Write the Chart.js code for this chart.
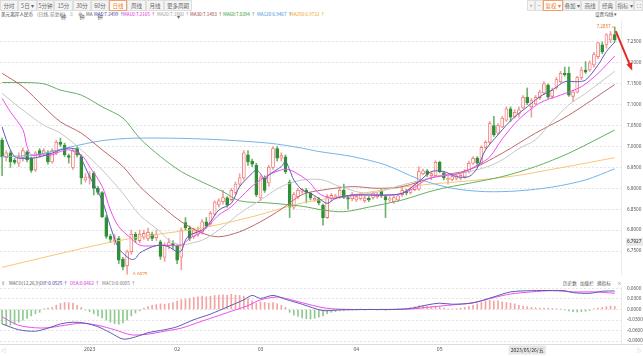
<!DOCTYPE html>
<html><head><meta charset="utf-8">
<script src="https://cdn.jsdelivr.net/npm/chart.js@4.4.1/dist/chart.umd.min.js"></script>
<style>
body{margin:0;width:643px;height:356px;overflow:hidden;background:#fff;position:relative;font-family:"Noto Sans CJK SC","Noto Sans",sans-serif;}
.b{position:absolute;top:0;height:11px;line-height:11px;font-size:5.5px;color:#666;text-align:center;background:#f4f4f4;border:1px solid #dedede;box-sizing:border-box;}
.b.on{color:#f0782a;border-color:#f0a06a;background:#fff;}
.t{position:absolute;font-size:4.6px;white-space:nowrap;line-height:6px;}
#c1w{position:absolute;left:0;top:20px;width:643px;height:255px;}
#c2w{position:absolute;left:0;top:286px;width:643px;height:70px;}
</style></head><body>
<div id="bar"></div>
<div id="leg"></div>
<div id="c1w"><canvas id="c1" width="643" height="255"></canvas></div>
<div id="c2w"><canvas id="c2" width="643" height="70"></canvas></div>
<script>
// ---------------- data ----------------
const open  = [7.015,6.973,6.985,6.967,6.96,6.973,6.987,6.972,6.944,6.99,6.983,6.985,6.963,6.985,7.01,7.003,6.978,6.95,6.995,6.975,6.92,6.925,6.937,6.90,6.89,6.83,6.785,6.774,6.78,6.73,6.715,6.748,6.79,6.775,6.783,6.78,6.79,6.782,6.772,6.735,6.763,6.768,6.762,6.735,6.818,6.805,6.785,6.79,6.795,6.82,6.815,6.838,6.86,6.868,6.877,6.873,6.89,6.91,6.925,6.98,6.965,6.955,6.877,6.925,6.913,6.95,6.995,6.972,6.975,6.915,6.855,6.88,6.893,6.895,6.888,6.872,6.875,6.86,6.83,6.875,6.878,6.88,6.895,6.878,6.875,6.872,6.875,6.87,6.876,6.878,6.88,6.893,6.88,6.872,6.868,6.872,6.885,6.893,6.89,6.897,6.898,6.935,6.942,6.93,6.93,6.962,6.937,6.921,6.921,6.924,6.924,6.927,6.94,6.96,6.972,6.96,6.998,7.01,7.05,7.032,7.047,7.063,7.09,7.072,7.078,7.092,7.118,7.095,7.102,7.117,7.128,7.147,7.12,7.14,7.155,7.175,7.175,7.12,7.13,7.165,7.183,7.183,7.195,7.215,7.243,7.243,7.255,7.268];
const high  = [7.02,6.99,6.99,6.972,6.985,6.997,6.99,6.975,6.988,6.995,6.995,6.99,6.995,7.015,7.02,7.008,6.982,6.995,7.0,6.98,6.935,6.94,6.94,6.905,6.892,6.835,6.79,6.79,6.785,6.735,6.752,6.80,6.795,6.80,6.80,6.805,6.795,6.80,6.776,6.77,6.78,6.775,6.765,6.805,6.83,6.81,6.805,6.808,6.825,6.83,6.845,6.87,6.875,6.895,6.88,6.90,6.915,6.935,6.99,6.99,6.97,6.96,6.93,6.93,6.955,7.0,7.0,6.985,6.98,6.92,6.89,6.90,6.90,6.90,6.89,6.88,6.878,6.862,6.885,6.888,6.886,6.90,6.91,6.882,6.89,6.885,6.89,6.882,6.88,6.892,6.89,6.897,6.884,6.88,6.882,6.886,6.905,6.898,6.902,6.912,6.952,6.946,6.945,6.94,6.966,6.965,6.94,6.928,6.932,6.935,6.936,6.945,6.965,6.976,6.976,7.002,7.014,7.06,7.072,7.055,7.072,7.095,7.095,7.088,7.095,7.122,7.14,7.115,7.122,7.135,7.155,7.15,7.14,7.165,7.18,7.19,7.19,7.135,7.168,7.19,7.203,7.205,7.225,7.25,7.25,7.27,7.275,7.2857];
const low   = [6.93,6.965,6.95,6.958,6.952,6.965,6.963,6.938,6.94,6.975,6.978,6.958,6.96,6.98,7.0,6.976,6.96,6.945,6.975,6.91,6.915,6.91,6.884,6.885,6.83,6.78,6.77,6.765,6.72,6.705,6.6975,6.742,6.77,6.77,6.778,6.775,6.775,6.775,6.73,6.725,6.755,6.755,6.72,6.705,6.80,6.775,6.78,6.785,6.79,6.805,6.81,6.835,6.855,6.862,6.855,6.87,6.885,6.905,6.92,6.955,6.952,6.88,6.87,6.89,6.905,6.945,6.965,6.965,6.935,6.83,6.85,6.875,6.888,6.865,6.872,6.868,6.86,6.812,6.828,6.87,6.874,6.876,6.875,6.85,6.87,6.868,6.872,6.866,6.868,6.874,6.876,6.878,6.83,6.868,6.864,6.868,6.88,6.884,6.886,6.894,6.895,6.932,6.928,6.92,6.928,6.937,6.92,6.91,6.918,6.92,6.92,6.924,6.937,6.957,6.955,6.957,6.994,7.007,7.024,7.028,7.045,7.06,7.06,7.068,7.07,7.09,7.10,7.07,7.10,7.112,7.125,7.115,7.115,7.137,7.152,7.168,7.12,7.107,7.128,7.16,7.175,7.18,7.19,7.21,7.222,7.235,7.248,7.25];
const close = [6.975,6.985,6.963,6.962,6.975,6.99,6.968,6.943,6.985,6.98,6.99,6.963,6.99,7.01,7.005,6.98,6.974,6.99,6.98,6.925,6.927,6.93,6.90,6.89,6.832,6.785,6.778,6.782,6.728,6.712,6.748,6.79,6.778,6.79,6.792,6.795,6.78,6.79,6.737,6.765,6.77,6.762,6.728,6.80,6.805,6.78,6.80,6.80,6.82,6.81,6.84,6.867,6.87,6.878,6.86,6.895,6.91,6.925,6.985,6.963,6.958,6.885,6.925,6.895,6.95,6.995,6.972,6.978,6.94,6.855,6.885,6.895,6.897,6.89,6.877,6.876,6.865,6.83,6.88,6.883,6.882,6.895,6.878,6.874,6.885,6.88,6.885,6.877,6.872,6.888,6.885,6.882,6.872,6.875,6.878,6.882,6.895,6.889,6.898,6.908,6.94,6.942,6.933,6.935,6.962,6.94,6.925,6.924,6.928,6.93,6.931,6.94,6.96,6.972,6.96,6.998,7.01,7.055,7.028,7.05,7.068,7.09,7.07,7.082,7.088,7.118,7.105,7.11,7.118,7.13,7.15,7.118,7.135,7.16,7.175,7.172,7.123,7.13,7.165,7.183,7.178,7.20,7.22,7.248,7.226,7.267,7.268,7.255];

// moving averages: [candle index, value]
const ma5   = [[0,7.047],[1,7.016],[2,6.992],[3,6.976],[4,6.972],[7,6.972],[9,6.975],[12,6.984],[14,6.992],[16,6.996],[18,6.992],[19,6.972],[21,6.928],[24,6.872],[26,6.808],[28,6.756],[30,6.736],[31,6.73],[32,6.732],[33,6.745],[36,6.76],[38,6.764],[40,6.76],[42,6.748],[43,6.75],[44,6.776],[45,6.788],[48,6.80],[50,6.82],[52,6.848],[55,6.864],[57,6.904],[60,6.936],[61,6.944],[62,6.935],[63,6.92],[64,6.932],[67,6.952],[68,6.964],[69,6.944],[70,6.92],[72,6.896],[74,6.888],[76,6.876],[78,6.864],[80,6.876],[84,6.884],[88,6.884],[92,6.884],[96,6.888],[100,6.916],[103,6.94],[106,6.94],[109,6.928],[112,6.928],[114,6.948],[116,6.992],[119,7.028],[121,7.051],[123,7.071],[126,7.095],[129,7.119],[132,7.135],[135,7.155],[138,7.155],[140,7.159],[143,7.195],[145,7.227],[147,7.2499]];
const ma10  = [[0,7.115],[2,7.083],[5,7.04],[6,7.0],[7,6.98],[9,6.98],[12,6.98],[14,6.988],[16,6.992],[19,6.98],[21,6.952],[24,6.905],[26,6.848],[28,6.808],[31,6.78],[33,6.764],[36,6.762],[38,6.764],[43,6.764],[45,6.78],[48,6.796],[50,6.816],[52,6.836],[55,6.856],[57,6.876],[60,6.905],[62,6.92],[64,6.932],[67,6.944],[69,6.944],[72,6.928],[74,6.912],[76,6.888],[79,6.876],[82,6.88],[86,6.884],[94,6.884],[98,6.896],[102,6.922],[106,6.93],[110,6.936],[114,6.955],[117,6.975],[120,7.018],[124,7.065],[129,7.104],[134,7.123],[139,7.143],[143,7.175],[147,7.2165]];
const ma20  = [[0,7.127],[5,7.087],[10,7.051],[14,7.032],[19,6.992],[24,6.944],[29,6.888],[33,6.836],[38,6.796],[40,6.776],[43,6.764],[45,6.768],[48,6.776],[52,6.80],[57,6.84],[62,6.872],[67,6.904],[72,6.92],[77,6.92],[81,6.904],[88,6.888],[96,6.908],[104,6.928],[110,6.936],[116,6.95],[120,6.968],[124,6.995],[128,7.016],[132,7.06],[136,7.10],[140,7.127],[147,7.18]];
const ma30  = [[0,7.175],[5,7.143],[10,7.095],[14,7.059],[19,7.032],[24,6.992],[29,6.952],[33,6.905],[38,6.86],[43,6.82],[48,6.793],[52,6.784],[57,6.796],[62,6.82],[67,6.85],[72,6.885],[77,6.896],[84,6.904],[90,6.90],[96,6.904],[104,6.928],[112,6.944],[120,6.984],[128,7.032],[136,7.075],[147,7.1483]];
const ma60  = [[0,7.153],[5,7.153],[10,7.15],[14,7.135],[19,7.123],[24,7.095],[29,7.068],[33,7.02],[38,6.976],[43,6.94],[48,6.915],[53,6.892],[57,6.87],[64,6.865],[72,6.857],[77,6.848],[82,6.844],[88,6.855],[96,6.872],[104,6.896],[112,6.912],[120,6.928],[128,6.952],[136,6.984],[147,7.0394]];
const ma120 = [[0,6.976],[8,6.98],[16,6.998],[24,7.014],[32,7.02],[48,7.018],[64,7.008],[72,6.996],[76,6.988],[84,6.976],[92,6.956],[100,6.922],[108,6.90],[116,6.892],[124,6.894],[132,6.903],[140,6.92],[147,6.9467]];
const ma250 = [[0,6.711],[25,6.769],[36,6.788],[48,6.805],[60,6.832],[72,6.865],[84,6.884],[97,6.904],[121,6.927],[134,6.949],[147,6.9732]];
const priceTicks = [6.75,6.80,6.85,6.90,6.95,7.00,7.05,7.10,7.15,7.20,7.25];

// MACD panel
const macdHist = [-0.040,-0.044,-0.045,-0.042,-0.036,-0.030,-0.025,-0.018,-0.012,-0.008,
 0.002,0.004,0.006,
 0.012,0.017,0.020,0.019,0.018,0.012,0.006,
 -0.002,-0.006,
 -0.012,-0.018,-0.024,-0.030,-0.036,-0.040,-0.042,-0.038,-0.030,
 -0.018,-0.010,-0.004,
 0.004,0.008,0.012,0.014,0.016,0.015,0.017,0.020,0.024,0.028,0.030,0.032,0.034,0.036,0.038,0.036,0.038,0.040,0.041,0.042,0.040,0.043,0.041,0.040,0.038,
 0.030,0.025,0.018,0.022,0.020,0.018,0.020,0.016,0.012,0.006,
 -0.008,-0.016,-0.020,-0.024,-0.026,-0.027,-0.025,-0.022,-0.018,-0.012,
 -0.008,-0.006,-0.004,-0.003,-0.002,-0.001,-0.001,0.001,-0.001,0.001,0.000,-0.001,0.001,-0.002,0.000,0.001,0.002,0.002,0.003,
 0.006,0.008,0.011,0.012,0.010,0.008,0.010,0.007,0.004,0.002,0.001,0.002,0.004,0.006,0.008,
 0.012,0.016,0.020,0.024,0.026,0.024,0.025,0.022,0.020,0.018,0.016,0.012,0.010,0.008,0.006,
 0.005,0.004,0.003,0.004,0.003,0.002,0.001,-0.001,
 -0.004,-0.006,-0.007,-0.006,-0.005,-0.003,
 0.002,0.004,0.006,0.008,0.010,0.0085];
const dif = [[0,-0.041],[4,-0.0575],[8,-0.0616],[11,-0.053],[14,-0.041],[17,-0.036],[20,-0.039],[23,-0.049],[26,-0.066],[29,-0.084],[32,-0.078],[35,-0.066],[39,-0.0575],[42,-0.049],[46,-0.029],[50,-0.013],[54,0.007],[58,0.0275],[60,0.040],[62,0.0316],[65,0.040],[68,0.029],[72,0.015],[77,-0.003],[81,-0.001],[88,0],[94,0],[98,0.003],[102,0.013],[105,0.018],[108,0.015],[113,0.019],[118,0.036],[122,0.050],[127,0.0535],[132,0.054],[135,0.0535],[137,0.048],[141,0.046],[144,0.052],[147,0.0525]];
const dea = [[0,-0.021],[4,-0.045],[8,-0.052],[11,-0.052],[15,-0.045],[19,-0.039],[23,-0.045],[27,-0.0575],[31,-0.072],[35,-0.070],[39,-0.0616],[43,-0.053],[47,-0.037],[51,-0.021],[55,-0.005],[59,0.011],[62,0.0275],[66,0.0356],[68,0.0316],[72,0.0194],[77,0.005],[81,0.001],[88,0],[98,0.0016],[103,0.0073],[108,0.013],[113,0.019],[118,0.034],[122,0.044],[127,0.050],[132,0.0535],[137,0.050],[142,0.050],[147,0.0462]];
const macdTicks = [0.06,0.03,0,-0.03,-0.06,-0.09];
const dateTicks = [[21,'2023'],[42,'02'],[62,'03'],[85,'04'],[105,'05']];
const cursorDate = [126,'2023/05/26/五'];

// ---------------- header html ----------------
const leftBtns = [['分时',0,18],['5日 ▾',18,37],['5分钟',37,54],['15分钟',54,73],['30分钟',73,91],['60分钟',91,109],['日线',109,127,1],['周线',127,146],['月线',146,164],['更多周期 ▾',164,192]];
const rightBtns = [['+',527,535],['−',535,543],['复权 ▾',543,563,1],['叠加 ▾',563,581],['画线',581,599],['经典',599,616],['指标 ▾',616,634],['⛶',634,643]];
let h='';
for(const b of leftBtns.concat(rightBtns)) h+=`<div class="b${b[3]?' on':''}" style="left:${b[1]}px;width:${b[2]-b[1]}px">${b[0]}</div>`;
document.getElementById('bar').innerHTML=h;
const legItems=[['美元离岸人民币',1,'#333'],['(日线, 前复权)',37,'#777'],['⍰',70,'#888'],['⚙',78,'#888'],['MA',86,'#555'],
 ['MA5:7.2499 ↑',94,'#3b3b9e'],['MA10:7.2165 ↑',123,'#e020e0'],['MA20:7.1800 ↑',157,'#999'],['MA30:7.1483 ↑',190,'#a04040'],
 ['MA60:7.0394 ↑',223,'#2f9a2f'],['MA120:6.9467 ↑',257,'#3a8fd8'],['MA250:6.9732 ↑',290,'#f0a020'],['设置均线 ▾',595,'#555']];
let l='';
for(const t of legItems) l+=`<div class="t" style="left:${t[1]}px;top:11px;color:${t[2]}">${t[0]}</div>`;
const macdLeg=[['⇕',1,'#888'],['MACD(12,26,9)',9,'#555'],['DIF:0.0525 ↑',40,'#3b3b9e'],['DEA:0.0462 ↑',70,'#e020e0'],['MACD:0.0085 ↑',102,'#777'],['历史数',563,'#555'],['加载栏',580,'#555'],['换指标',597,'#555'],['×',617,'#888']];
for(const t of macdLeg) l+=`<div class="t" style="left:${t[1]}px;top:280px;color:${t[2]}">${t[0]}</div>`;
document.getElementById('leg').innerHTML=l;

// ---------------- chart helpers ----------------
const N = open.length;
const labels = Array.from({length:N+1},(_,i)=>i);
const toSeries = pts => { const a = new Array(N+1).fill(null); pts.forEach(([i,v])=>a[i]=v); return a; };
const up = close.map((c,i)=>c>=open[i]);
const UP='#ee6b6b', DN='#2f8f34';
const maDef = [[ma5,'#5c5cae'],[ma10,'#f04cf0'],[ma20,'#c6c6c6'],[ma30,'#bb6a6a'],[ma60,'#63b063'],[ma120,'#72b4ea'],[ma250,'#f8c677']];
const xCommon = {type:'category',offset:true,display:false,grid:{display:false}};
const fixW = s => { s.width = 22; s.paddingTop = 0; s.paddingBottom = 0; };
const yAxis = (min,max,ticks)=>({position:'right',min,max,afterFit:fixW,
  afterBuildTicks:s=>{s.ticks=ticks.map(v=>({value:v}));},
  grid:{color:'#e4e4e4',drawTicks:false},border:{display:true,color:'#ececec',dash:[2,2]},
  ticks:{padding:6,font:{size:4.6,family:'"Noto Sans"'},color:'#555',callback:v=>Number(v).toFixed(4)}});

const overlay = {
  id:'overlay',
  afterDraw(ch){
    const c=ch.ctx, xs=ch.scales.x, ys=ch.scales.y;
    c.save();
    c.font='4.6px "Noto Sans"';
    const hi = N-1, xh = xs.getPixelForValue(hi), yh = ys.getPixelForValue(high[hi]);
    c.strokeStyle='#f07a30'; c.fillStyle='#f07a30'; c.lineWidth=0.7;
    c.beginPath(); c.moveTo(xh,yh); c.lineTo(xh-3,yh); c.stroke();
    c.textAlign='right'; c.textBaseline='middle'; c.fillText(high[hi].toFixed(4), xh-4, yh);
    let li=0; low.forEach((v,i)=>{ if(v<low[li]) li=i; });
    const xl = xs.getPixelForValue(li), yl = ys.getPixelForValue(low[li]);
    c.beginPath(); c.moveTo(xl,yl); c.lineTo(xl,yl+3); c.lineTo(xl+5,yl+3); c.stroke();
    c.textAlign='left'; c.fillText(low[li].toFixed(4), xl+6, yl+2);
    const ax0=xh+1, ay0=yh+4, ax1=xh+16, ay1=yh+40;
    c.strokeStyle='#e42c24'; c.fillStyle='#e42c24'; c.lineWidth=2;
    c.beginPath(); c.moveTo(ax0,ay0); c.lineTo(ax1,ay1); c.stroke();
    const ang=Math.atan2(ay1-ay0,ax1-ax0);
    c.beginPath(); c.moveTo(ax1+Math.cos(ang)*4,ay1+Math.sin(ang)*4);
    c.lineTo(ax1+Math.cos(ang+2.5)*5,ay1+Math.sin(ang+2.5)*5);
    c.lineTo(ax1+Math.cos(ang-2.5)*5,ay1+Math.sin(ang-2.5)*5); c.closePath(); c.fill();
    const yb = ys.getPixelForValue(6.772);
    c.fillStyle='#e9e9e9'; c.fillRect(ch.chartArea.right+5, yb-4, 17, 8);
    c.fillStyle='#333'; c.textAlign='left'; c.fillText('6.7927', ch.chartArea.right+6, yb);
    c.restore();
  }
};

new Chart(document.getElementById('c1'),{
  data:{labels,datasets:[
    ...maDef.map(([p,col])=>({type:'line',data:toSeries(p),borderColor:col,borderWidth:1,pointRadius:0,spanGaps:true,tension:0.3,order:0})),
    {type:'bar',data:open.map((o,i)=>[Math.min(o,close[i]),Math.max(o,close[i])]),backgroundColor:up.map(u=>u?'#fff4f4':DN),borderColor:up.map(u=>u?UP:DN),borderWidth:0.8,borderSkipped:false,barThickness:3,minBarLength:1,grouped:false,order:1},
    {type:'bar',data:low.map((v,i)=>[v,high[i]]),backgroundColor:up.map(u=>u?'#f2a0a0':'#6cb46c'),barThickness:1,grouped:false,order:2}
  ]},
  options:{responsive:false,animation:false,devicePixelRatio:1,layout:{padding:0},
    plugins:{legend:{display:false},tooltip:{enabled:false}},
    scales:{x:xCommon,y:yAxis(6.6926,7.3026,priceTicks)}},
  plugins:[overlay]
});

// date axis under the MACD panel, placed with the panel's own x scale
const dateAxis = {id:'dateAxis',afterDraw(ch){
  const c=ch.ctx, xs=ch.scales.x, a=ch.chartArea; const y=a.bottom+7;
  c.save();
  c.strokeStyle='#dcdcdc'; c.lineWidth=1; c.beginPath(); c.moveTo(0,a.bottom+1.5); c.lineTo(643,a.bottom+1.5); c.stroke();
  c.font='5px "Noto Sans"'; c.textBaseline='middle'; c.textAlign='center'; c.fillStyle='#555';
  for(const [i,t] of dateTicks){ const x=xs.getPixelForValue(i); c.fillText(t,x,y); }
  c.font='5px "Noto Sans CJK SC"';
  const x=xs.getPixelForValue(cursorDate[0]); const w=c.measureText(cursorDate[1]).width+4;
  c.fillStyle='#e6e6e6'; c.fillRect(x-w/2,y-4.5,w,9); c.fillStyle='#333'; c.fillText(cursorDate[1],x,y);
  c.fillStyle='#aaa'; c.textAlign='left'; c.fillText('◁',1,y); c.textAlign='right'; c.fillText('▷',642,y);
  c.restore();}};
new Chart(document.getElementById('c2'),{
  data:{labels,datasets:[
    {type:'line',data:toSeries(dif),borderColor:'#5c5cae',borderWidth:1,pointRadius:0,spanGaps:true,tension:0.3,order:0},
    {type:'line',data:toSeries(dea),borderColor:'#f04cf0',borderWidth:1,pointRadius:0,spanGaps:true,tension:0.3,order:0},
    {type:'bar',data:macdHist,backgroundColor:macdHist.map(v=>v>=0?'#f4a3a3':'#8fc98f'),barThickness:1,order:1}
  ]},
  options:{responsive:false,animation:false,devicePixelRatio:1,layout:{padding:{bottom:13}},
    plugins:{legend:{display:false},tooltip:{enabled:false}},
    scales:{x:xCommon,y:yAxis(-0.0952,0.0668,macdTicks)}},
  plugins:[dateAxis]
});
</script></body></html>
